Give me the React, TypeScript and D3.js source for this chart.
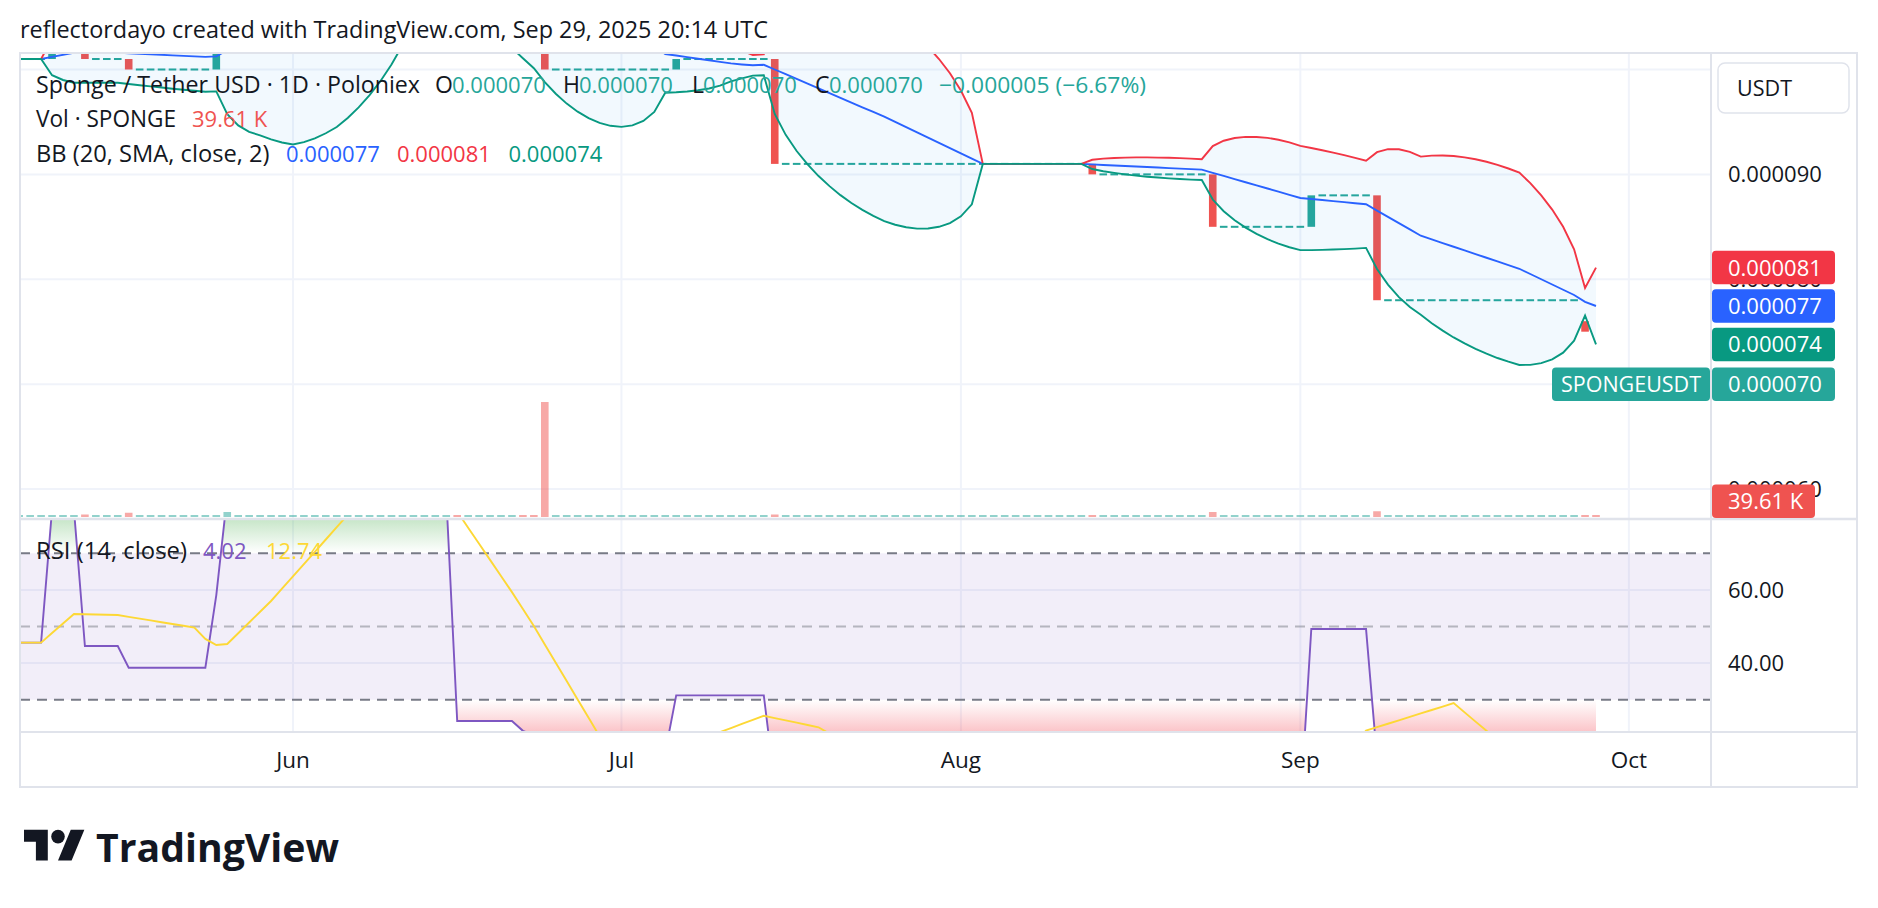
import * as React from "react"
import * as d3 from "d3"

// Daily bars starting May 7, 2025. Prices are in millionths of USDT (101 -> 0.000101)
const firstBar = "2025-05-07"

const opens = [
  101, 101, 101, 101, 105, 105, 105, 101, 101, 101,
  101, 100, 100, 100, 100, 100, 100, 100, 100, 102,
  113, 113, 113, 113, 113, 113, 113, 113, 113, 113,
  113, 113, 113, 113, 113, 113, 113, 113, 113, 113,
  113, 104, 104, 104, 104, 104, 104, 103, 102.5, 100,
  100, 100, 100, 100, 100, 100, 100, 100, 100, 100,
  100, 101, 101, 101, 101, 101, 101, 101, 101, 101,
  91, 91, 91, 91, 91, 91, 91, 91, 91, 91,
  91, 91, 91, 91, 91, 91, 91, 91, 91, 91,
  91, 91, 91, 91, 91, 91, 91, 91, 91, 90,
  90, 90, 90, 90, 90, 90, 90, 90, 90, 90,
  85, 85, 85, 85, 85, 85, 85, 85, 85, 88,
  88, 88, 88, 88, 88, 78, 78, 78, 78, 78,
  78, 78, 78, 78, 78, 78, 78, 78, 78, 78,
  78, 78, 78, 76, 70,
]

const closes = [
  101, 101, 101, 105, 105, 105, 101, 101, 101, 101,
  100, 100, 100, 100, 100, 100, 100, 100, 102, 113,
  113, 113, 113, 113, 113, 113, 113, 113, 113, 113,
  113, 113, 113, 113, 113, 113, 113, 113, 113, 113,
  104, 104, 104, 104, 104, 104, 103, 102.5, 100, 100,
  100, 100, 100, 100, 100, 100, 100, 100, 100, 100,
  101, 101, 101, 101, 101, 101, 101, 101, 101, 91,
  91, 91, 91, 91, 91, 91, 91, 91, 91, 91,
  91, 91, 91, 91, 91, 91, 91, 91, 91, 91,
  91, 91, 91, 91, 91, 91, 91, 91, 90, 90,
  90, 90, 90, 90, 90, 90, 90, 90, 90, 85,
  85, 85, 85, 85, 85, 85, 85, 85, 88, 88,
  88, 88, 88, 88, 78, 78, 78, 78, 78, 78,
  78, 78, 78, 78, 78, 78, 78, 78, 78, 78,
  78, 78, 78, 75, 70,
]

// volume in thousands of SPONGE
const volumes = [
  0, 0, 0, 8, 0, 0, 50, 0, 0, 0,
  85, 0, 0, 0, 0, 0, 0, 0, 10, 100,
  0, 0, 0, 0, 0, 0, 0, 0, 0, 0,
  0, 0, 0, 0, 0, 0, 0, 0, 0, 0,
  35, 0, 0, 0, 0, 0, 30, 20, 2300, 0,
  0, 0, 0, 0, 0, 0, 0, 0, 0, 0,
  10, 0, 0, 0, 0, 0, 0, 0, 0, 50,
  0, 0, 0, 0, 0, 0, 0, 0, 0, 0,
  0, 0, 0, 0, 0, 0, 0, 0, 0, 0,
  0, 0, 0, 0, 0, 0, 0, 0, 40, 0,
  0, 0, 0, 0, 0, 0, 0, 0, 0, 100,
  0, 0, 0, 0, 0, 0, 0, 0, 12, 0,
  0, 0, 0, 0, 115, 0, 0, 0, 0, 0,
  0, 0, 0, 0, 0, 0, 0, 0, 0, 0,
  0, 0, 0, 40, 39.61,
]

const bbUpper = [
  101, 101, 101, 102.94, 103.8, 104.46, 104.46, 104.46, 104.46, 104.46,
  104.48, 104.5, 104.51, 104.52, 104.53, 104.53, 104.53, 104.52, 104.59, 107.96,
  110.23, 112.05, 113.58, 114.77, 115.86, 116.85, 117.82, 118.66, 119.38, 119.99,
  120.42, 120.71, 120.84, 120.79, 120.53, 119.99, 119.03, 117.24, 113, 113,
  116.47, 117.5, 118.08, 118.4, 118.54, 118.55, 118.53, 118.43, 118.45, 118.26,
  117.9, 117.37, 116.69, 115.84, 114.82, 113.62, 112.18, 110.46, 108.29, 105.15,
  104.82, 104.45, 104.03, 103.56, 102.99, 102.28, 101.8, 101.38, 101.45, 104.24,
  105.33, 105.97, 106.35, 106.56, 106.62, 106.58, 106.43, 106.19, 105.86, 105.45,
  104.8, 104.04, 103.17, 102.16, 101, 99.64, 98, 95.86, 91, 91,
  91, 91, 91, 91, 91, 91, 91, 91, 91.39, 91.5,
  91.56, 91.6, 91.62, 91.62, 91.6, 91.58, 91.55, 91.5, 91.45, 92.7,
  93.21, 93.47, 93.58, 93.57, 93.48, 93.3, 93.05, 92.72, 92.52, 92.3,
  92.07, 91.83, 91.58, 91.31, 92.12, 92.41, 92.4, 92.15, 91.69, 91.79,
  91.8, 91.75, 91.62, 91.44, 91.2, 90.91, 90.56, 90.17, 89.16, 88,
  86.64, 85, 82.86, 79.16, 81.11,
]

const bbBasis = [
  101, 101, 101, 101.2, 101.4, 101.6, 101.6, 101.6, 101.6, 101.6,
  101.55, 101.5, 101.45, 101.4, 101.35, 101.3, 101.25, 101.2, 101.25, 101.85,
  102.45, 103.05, 103.65, 104.05, 104.45, 104.85, 105.45, 106.05, 106.65, 107.25,
  107.9, 108.55, 109.2, 109.85, 110.5, 111.15, 111.8, 112.45, 113, 113,
  112.55, 112.1, 111.65, 111.2, 110.75, 110.3, 109.8, 109.28, 108.63, 107.98,
  107.33, 106.68, 106.03, 105.38, 104.73, 104.08, 103.43, 102.78, 102.13, 101.48,
  101.33, 101.18, 101.03, 100.88, 100.73, 100.58, 100.48, 100.4, 100.45, 100,
  99.55, 99.1, 98.65, 98.2, 97.75, 97.3, 96.85, 96.4, 95.95, 95.5,
  95, 94.5, 94, 93.5, 93, 92.5, 92, 91.5, 91, 91,
  91, 91, 91, 91, 91, 91, 91, 91, 90.95, 90.9,
  90.85, 90.8, 90.75, 90.7, 90.65, 90.6, 90.55, 90.5, 90.45, 90.15,
  89.85, 89.55, 89.25, 88.95, 88.65, 88.35, 88.05, 87.75, 87.65, 87.55,
  87.45, 87.35, 87.25, 87.15, 86.55, 85.95, 85.35, 84.75, 84.15, 83.8,
  83.45, 83.1, 82.75, 82.4, 82.05, 81.7, 81.35, 81, 80.5, 80,
  79.5, 79, 78.5, 77.85, 77.45,
]

const bbLower = [
  101, 101, 101, 99.46, 99, 98.74, 98.74, 98.74, 98.74, 98.74,
  98.62, 98.5, 98.39, 98.28, 98.17, 98.07, 97.97, 97.88, 97.91, 95.74,
  94.67, 94.05, 93.72, 93.33, 93.04, 92.85, 93.08, 93.44, 93.92, 94.51,
  95.38, 96.39, 97.56, 98.91, 100.47, 102.31, 104.57, 107.65, 113, 113,
  108.63, 106.7, 105.22, 103.6, 102.96, 102.05, 101.07, 100.12, 98.8, 97.69,
  96.75, 95.98, 95.36, 94.91, 94.63, 94.53, 94.67, 95.09, 95.96, 97.79,
  97.83, 97.9, 98.02, 98.19, 98.46, 98.86, 99.15, 99.42, 99.45, 95.76,
  93.77, 92.23, 90.95, 89.84, 88.88, 88.02, 87.27, 86.61, 86.04, 85.55,
  85.2, 84.96, 84.83, 84.84, 85, 85.36, 86, 87.14, 91, 91,
  91, 91, 91, 91, 91, 91, 91, 91, 90.51, 90.3,
  90.14, 90, 89.88, 89.78, 89.7, 89.62, 89.56, 89.5, 89.46, 87.6,
  86.49, 85.63, 84.92, 84.33, 83.82, 83.4, 83.05, 82.78, 82.78, 82.8,
  82.83, 82.87, 82.92, 82.99, 80.98, 79.49, 78.3, 77.35, 76.61, 75.81,
  75.1, 74.45, 73.88, 73.36, 72.9, 72.49, 72.14, 71.83, 71.84, 72,
  72.36, 73, 74.14, 76.54, 73.79,
]

const rsiValues = [
  45.6, 45.6, 45.6, 82, 82, 82, 44.66, 44.66, 44.66, 44.66,
  38.74, 38.74, 38.74, 38.74, 38.74, 38.74, 38.74, 38.74, 58.6, 85.8,
  85.8, 85.8, 85.8, 85.8, 85.8, 85.8, 85.8, 85.8, 85.8, 85.8,
  85.8, 85.8, 85.8, 85.8, 85.8, 85.8, 85.8, 85.8, 85.8, 85.8,
  24.19, 24.19, 24.19, 24.19, 24.19, 24.19, 21.5, 20.3, 15.58, 15.58,
  15.58, 15.58, 15.58, 15.58, 15.58, 15.58, 15.58, 15.58, 15.58, 15.58,
  31.17, 31.17, 31.17, 31.17, 31.17, 31.17, 31.17, 31.17, 31.17, 6.78,
  6.78, 6.78, 6.78, 6.78, 6.78, 6.78, 6.78, 6.78, 6.78, 6.78,
  6.78, 6.78, 6.78, 6.78, 6.78, 6.78, 6.78, 6.78, 6.78, 6.78,
  6.78, 6.78, 6.78, 6.78, 6.78, 6.78, 6.78, 6.78, 4.06, 4.06,
  4.06, 4.06, 4.06, 4.06, 4.06, 4.06, 4.06, 4.06, 4.06, 0.73,
  0.73, 0.73, 0.73, 0.73, 0.73, 0.73, 0.73, 0.73, 49.3, 49.3,
  49.3, 49.3, 49.3, 49.3, 13.9, 13.9, 13.9, 13.9, 13.9, 13.9,
  13.9, 13.9, 13.9, 13.9, 13.9, 13.9, 13.9, 13.9, 13.9, 13.9,
  13.9, 13.9, 13.9, 7.4, 4.02,
]

const rsiMa = [
  45.6, 45.6, 45.6, 48.2, 50.8, 53.4, 53.33, 53.27, 53.2, 53.13,
  52.64, 52.15, 51.66, 51.17, 50.68, 50.19, 49.7, 46.61, 44.94, 45.21,
  48.15, 51.09, 54.03, 56.97, 60.33, 63.69, 67.05, 70.41, 73.77, 77.13,
  80.5, 83.86, 85.8, 85.8, 85.8, 85.8, 85.8, 85.8, 85.8, 85.8,
  81.4, 77, 72.6, 68.2, 63.8, 59.4, 54.8, 50.12, 45.11, 40.09,
  35.08, 30.06, 25.05, 20.03, 19.42, 18.8, 18.19, 17.57, 16.96, 16.34,
  15.92, 17.81, 18.92, 20.03, 21.15, 22.26, 23.38, 24.49, 25.6, 24.97,
  24.35, 23.72, 23.09, 22.46, 20.72, 18.98, 17.23, 15.49, 13.75, 12.01,
  10.26, 8.52, 6.78, 6.78, 6.78, 6.78, 6.78, 6.78, 6.78, 6.78,
  6.78, 6.78, 6.78, 6.78, 6.78, 6.78, 6.78, 6.78, 6.59, 6.39,
  6.2, 6, 5.81, 5.61, 5.42, 5.23, 5.03, 4.84, 4.64, 4.21,
  3.78, 3.35, 3.11, 2.87, 2.63, 2.4, 2.16, 1.92, 5.15, 8.38,
  11.61, 14.85, 18.08, 21.55, 22.49, 23.43, 24.37, 25.31, 26.25, 27.19,
  28.13, 29.07, 26.54, 24.01, 21.49, 18.96, 16.43, 13.9, 13.9, 13.9,
  13.9, 13.9, 13.9, 13.44, 12.74,
]

// 0.000100 sits under the currency box, so only the lower ticks get labels
const priceTicks = [60, 70, 80, 90, 100]
const priceLabelTicks = [60, 70, 80, 90]
const rsiTicks = [40, 60]
const rsiLevels = [70, 50, 30]

const FONT = "'Open Sans', 'Noto Sans', sans-serif"
const TEXT = "#131722"
const UP = "#26A69A"
const DOWN = "#EF5350"
const GRID = "#F0F3FA"
const BORDER = "#E0E3EB"

export default function App() {
  const svgRef = React.useRef<SVGSVGElement>(null)

  React.useEffect(() => {
    if (!svgRef.current) return
    const svg = d3.select(svgRef.current)
    svg.selectAll("*").remove()

    const n = closes.length
    const last = n - 1
    const start = new Date(firstBar + "T00:00:00Z")
    const dates = closes.map((_, i) => d3.utcDay.offset(start, i))
    const idx = d3.range(n)

    // layout of the TradingView frame
    const left = 20, plotRight = 1711, frameRight = 1857
    const frameTop = 53, mainBottom = 518, rsiTop = 520, rsiBottom = 732, frameBottom = 787
    const barStep = 10.95, candleW = 7.6, lastX = 1596

    const x = d3.scaleUtc().domain([dates[0], dates[last]]).range([lastX - barStep * last, lastX])
    const y = d3.scaleLinear().domain([60, 100]).range([489, 69.5])
    const yVol = d3.scaleLinear().domain([0, d3.max(volumes) as number]).range([517, 402])
    const yRsi = d3.scaleLinear().domain([30, 70]).range([699.7, 553.3])
    const fmtPrice = (v: number) => d3.format(".6f")(v * 1e-6)
    const months = d3.utcMonth.range(d3.utcMonth.ceil(dates[0]), d3.utcDay.offset(dates[last], 10))
    const rising = (i: number) => i === 0 || closes[i] >= closes[i - 1]

    const text = (g: any, tx: number, ty: number, t: string, fill: string, size = 22, anchor = "start", weight = 400) =>
      g.append("text")
        .attr("x", tx).attr("y", ty)
        .attr("fill", fill)
        .attr("font-family", FONT)
        .attr("font-size", size)
        .attr("font-weight", weight)
        .attr("text-anchor", anchor)
        .text(t)
    // wider humanist labels: fit them to the width they take in the original
    const fitted = (g: any, tx: number, ty: number, t: string, w: number, size = 23, weight = 400) =>
      text(g, tx, ty, t, TEXT, size, "start", weight)
        .attr("textLength", w)
        .attr("lengthAdjust", "spacingAndGlyphs")

    svg.append("rect").attr("width", 1878).attr("height", 908).attr("fill", "#fff")

    const defs = svg.append("defs")
    const clip = (id: string, cx: number, cy: number, w: number, h: number) =>
      defs.append("clipPath").attr("id", id).append("rect").attr("x", cx).attr("y", cy).attr("width", w).attr("height", h)
    clip("clip-main", left, frameTop + 1, plotRight - left, mainBottom - frameTop - 1)
    clip("clip-rsi", left, rsiTop, plotRight - left, rsiBottom - rsiTop)
    clip("clip-ob", left, rsiTop, plotRight - left, yRsi(70) - rsiTop)
    clip("clip-os", left, yRsi(30), plotRight - left, rsiBottom - yRsi(30))

    const ob = defs.append("linearGradient").attr("id", "ob-grad").attr("gradientUnits", "userSpaceOnUse")
      .attr("x1", 0).attr("x2", 0).attr("y1", yRsi(100)).attr("y2", yRsi(70))
    ob.append("stop").attr("offset", 0).attr("stop-color", "#4CAF50").attr("stop-opacity", 1)
    ob.append("stop").attr("offset", 1).attr("stop-color", "#4CAF50").attr("stop-opacity", 0)
    const os = defs.append("linearGradient").attr("id", "os-grad").attr("gradientUnits", "userSpaceOnUse")
      .attr("x1", 0).attr("x2", 0).attr("y1", yRsi(30)).attr("y2", yRsi(0))
    os.append("stop").attr("offset", 0).attr("stop-color", "#F23645").attr("stop-opacity", 0)
    os.append("stop").attr("offset", 1).attr("stop-color", "#F23645").attr("stop-opacity", 1)

    fitted(svg, 20, 38, "reflectordayo created with TradingView.com, Sep 29, 2025 20:14 UTC", 748)

    // ---- main pane
    const main = svg.append("g").attr("clip-path", "url(#clip-main)")
    main.selectAll("line.hgrid").data(priceTicks).join("line").attr("class", "hgrid")
      .attr("x1", left).attr("x2", plotRight).attr("y1", d => y(d)).attr("y2", d => y(d))
      .attr("stroke", GRID).attr("stroke-width", 2)
    main.selectAll("line.vgrid").data(months).join("line").attr("class", "vgrid")
      .attr("x1", d => x(d)).attr("x2", d => x(d)).attr("y1", frameTop).attr("y2", mainBottom)
      .attr("stroke", GRID).attr("stroke-width", 2)

    main.append("g").selectAll("rect").data(idx).join("rect")
      .attr("x", i => x(dates[i]) - candleW / 2)
      .attr("width", candleW)
      .attr("y", i => Math.min(yVol(volumes[i]), 515))
      .attr("height", i => 517 - Math.min(yVol(volumes[i]), 515))
      .attr("fill", i => rising(i) ? "rgba(38,166,154,0.5)" : "rgba(239,83,80,0.5)")

    main.append("g").selectAll("rect").data(idx).join("rect")
      .attr("x", i => x(dates[i]) - candleW / 2)
      .attr("width", candleW)
      .attr("y", i => opens[i] === closes[i] ? y(closes[i]) - 1 : Math.min(y(opens[i]), y(closes[i])))
      .attr("height", i => Math.max(2, Math.abs(y(opens[i]) - y(closes[i]))))
      .attr("fill", i => closes[i] > opens[i] ? UP : closes[i] < opens[i] ? DOWN : rising(i) ? UP : DOWN)

    main.append("path").datum(idx)
      .attr("d", d3.area<number>().x(i => x(dates[i])).y0(i => y(bbLower[i])).y1(i => y(bbUpper[i])))
      .attr("fill", "rgba(33,150,243,0.06)")
    const bands: [number[], string][] = [[bbBasis, "#2962FF"], [bbUpper, "#F23645"], [bbLower, "#089981"]]
    bands.forEach(([vals, color]) => {
      main.append("path").datum(idx)
        .attr("d", d3.line<number>().x(i => x(dates[i])).y(i => y(vals[i])))
        .attr("fill", "none").attr("stroke", color).attr("stroke-width", 1.9)
    })

    // ---- RSI pane
    const rsiG = svg.append("g").attr("clip-path", "url(#clip-rsi)")
    rsiG.selectAll("line.hgrid").data(rsiTicks).join("line").attr("class", "hgrid")
      .attr("x1", left).attr("x2", plotRight).attr("y1", d => yRsi(d)).attr("y2", d => yRsi(d))
      .attr("stroke", GRID).attr("stroke-width", 2)
    rsiG.selectAll("line.vgrid").data(months).join("line").attr("class", "vgrid")
      .attr("x1", d => x(d)).attr("x2", d => x(d)).attr("y1", rsiTop).attr("y2", rsiBottom)
      .attr("stroke", GRID).attr("stroke-width", 2)
    rsiG.append("rect")
      .attr("x", left).attr("width", plotRight - left)
      .attr("y", yRsi(70)).attr("height", yRsi(30) - yRsi(70))
      .attr("fill", "rgba(126,87,194,0.1)")

    rsiG.append("path").datum(idx).attr("clip-path", "url(#clip-ob)")
      .attr("d", d3.area<number>().x(i => x(dates[i])).y0(yRsi(70)).y1(i => yRsi(rsiValues[i])))
      .attr("fill", "url(#ob-grad)")
    rsiG.append("path").datum(idx).attr("clip-path", "url(#clip-os)")
      .attr("d", d3.area<number>().x(i => x(dates[i])).y0(yRsi(30)).y1(i => yRsi(rsiValues[i])))
      .attr("fill", "url(#os-grad)")

    rsiG.selectAll("line.level").data(rsiLevels).join("line").attr("class", "level")
      .attr("x1", left).attr("x2", plotRight).attr("y1", d => yRsi(d)).attr("y2", d => yRsi(d))
      .attr("stroke", d => d === 50 ? "rgba(120,123,134,0.5)" : "#787B86")
      .attr("stroke-width", 2).attr("stroke-dasharray", "10,7")

    rsiG.append("path").datum(idx)
      .attr("d", d3.line<number>().x(i => x(dates[i])).y(i => yRsi(rsiValues[i])))
      .attr("fill", "none").attr("stroke", "#7E57C2").attr("stroke-width", 1.9)
    rsiG.append("path").datum(idx)
      .attr("d", d3.line<number>().x(i => x(dates[i])).y(i => yRsi(rsiMa[i])))
      .attr("fill", "none").attr("stroke", "#FDD835").attr("stroke-width", 1.9)

    // ---- frame
    const frame = svg.append("g").attr("stroke", BORDER).attr("stroke-width", 2)
    frame.append("rect").attr("x", left).attr("y", frameTop).attr("width", frameRight - left)
      .attr("height", frameBottom - frameTop).attr("fill", "none")
    frame.append("line").attr("x1", plotRight).attr("x2", plotRight).attr("y1", frameTop).attr("y2", frameBottom)
    frame.append("line").attr("x1", left).attr("x2", frameRight).attr("y1", 519).attr("y2", 519).attr("stroke-width", 2.5)
    frame.append("line").attr("x1", left).attr("x2", frameRight).attr("y1", rsiBottom).attr("y2", rsiBottom)

    // ---- axes
    const axis = svg.append("g")
    priceLabelTicks.forEach(t => text(axis, 1728, y(t) + 8, fmtPrice(t), TEXT))
    rsiTicks.forEach(t => text(axis, 1728, yRsi(t) + 8, d3.format(".2f")(t), TEXT))
    months.forEach(m => text(axis, x(m), 768, d3.utcFormat("%b")(m), TEXT, 22.5, "middle"))

    axis.append("rect").attr("x", 1718).attr("y", 63).attr("width", 131).attr("height", 50).attr("rx", 7)
      .attr("fill", "#fff").attr("stroke", BORDER).attr("stroke-width", 1.5)
    fitted(axis, 1737, 96, "USDT", 55, 22.5)

    const tag = (x0: number, w: number, cy: number, fill: string, t: string, tx: number) => {
      axis.append("rect").attr("x", x0).attr("y", cy - 16.75).attr("width", w).attr("height", 33.5)
        .attr("rx", 4).attr("fill", fill)
      return text(axis, tx, cy + 8, t, "#fff")
    }
    tag(1712, 123, y(bbUpper[last]), "#F23645", fmtPrice(bbUpper[last]), 1728)
    tag(1712, 123, y(bbBasis[last]), "#2962FF", fmtPrice(bbBasis[last]), 1728)
    tag(1712, 123, y(bbLower[last]), "#089981", fmtPrice(bbLower[last]), 1728)
    tag(1552, 158, y(closes[last]), UP, "SPONGEUSDT", 1561).attr("textLength", 140).attr("lengthAdjust", "spacingAndGlyphs")
    tag(1712, 123, y(closes[last]), UP, fmtPrice(closes[last]), 1728)
    tag(1712, 103, Math.min(yVol(volumes[last]), mainBottom - 16.75), DOWN, d3.format(".2f")(volumes[last]) + " K", 1728)

    // ---- legends
    const lg = svg.append("g")
    const change = closes[last] - closes[last - 1]
    const pct = change / closes[last - 1] * 100
    fitted(lg, 36, 92.5, "Sponge / Tether USD · 1D · Poloniex", 384)
    const ohlc: [string, number, number, number][] = [
      ["O", opens[last], 435, 452],
      ["H", Math.max(opens[last], closes[last]), 563, 579],
      ["L", Math.min(opens[last], closes[last]), 692, 703],
      ["C", closes[last], 815, 829],
    ]
    ohlc.forEach(([k, v, kx, vx]) => {
      text(lg, kx, 92.5, k, TEXT, 23)
      text(lg, vx, 92.5, fmtPrice(v), UP)
    })
    text(lg, 939, 92.5, `${fmtPrice(change).replace("-", "\u2212")} (${d3.format(".2f")(pct).replace("-", "\u2212")}%)`, UP)
      .attr("textLength", 207).attr("lengthAdjust", "spacingAndGlyphs")

    fitted(lg, 36, 127, "Vol · SPONGE", 140)
    text(lg, 192, 127, d3.format(".2f")(volumes[last]) + " K", DOWN)

    fitted(lg, 36, 161.5, "BB (20, SMA, close, 2)", 233.5)
    text(lg, 286, 161.5, fmtPrice(bbBasis[last]), "#2962FF")
    text(lg, 397, 161.5, fmtPrice(bbUpper[last]), "#F23645")
    text(lg, 508.5, 161.5, fmtPrice(bbLower[last]), "#089981")

    fitted(lg, 36, 559.3, "RSI (14, close)", 151)
    text(lg, 203, 559.3, d3.format(".2f")(rsiValues[last]), "#7E57C2")
    text(lg, 266, 559.3, d3.format(".2f")(rsiMa[last]), "#FDD835")

    // ---- TradingView logo
    const logo = svg.append("g").attr("transform", "translate(24,823) scale(1.7)").attr("fill", TEXT)
    logo.append("path").attr("d", "M14 22H7V11H0V4h14v18zM28 22h-8l7.5-18h8L28 22z")
    logo.append("circle").attr("cx", 20).attr("cy", 8).attr("r", 4)
    fitted(svg, 96, 862, "TradingView", 243, 40, 700)
  }, [])

  return (
    <svg
      ref={svgRef}
      width={1878}
      height={908}
      viewBox="0 0 1878 908"
      style={{ position: "absolute", left: 0, top: 0, display: "block", background: "#fff" }}
    />
  )
}
